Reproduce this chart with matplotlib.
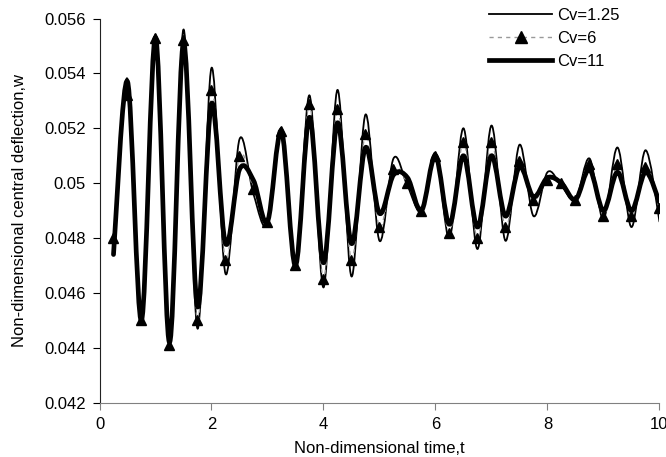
import numpy as np
import matplotlib
matplotlib.use('Agg')
import matplotlib.pyplot as plt
from matplotlib.path import Path
from matplotlib.patches import PathPatch
from matplotlib.lines import Line2D

plt.rcParams['font.family'] = ['Liberation Sans', 'DejaVu Sans']

# time samples
t = [0.25, 0.5, 0.75, 1.0, 1.25, 1.5, 1.75, 2.0, 2.25, 2.5,
     2.75, 3.0, 3.25, 3.5, 3.75, 4.0, 4.25, 4.5, 4.75, 5.0,
     5.25, 5.5, 5.75, 6.0, 6.25, 6.5, 6.75, 7.0, 7.25, 7.5,
     7.75, 8.0, 8.25, 8.5, 8.75, 9.0, 9.25, 9.5, 9.75, 10.0]

# central deflection for each damping value
w_cv125 = [0.0475, 0.0538, 0.0449, 0.0554, 0.0441, 0.0556, 0.0447, 0.0542, 0.0467, 0.0516,
           0.0496, 0.0485, 0.0520, 0.0470, 0.0532, 0.0462, 0.0534, 0.0466, 0.0525, 0.0479,
           0.0509, 0.0499, 0.0490, 0.0511, 0.0480, 0.0520, 0.0476, 0.0521, 0.0479, 0.0514,
           0.0488, 0.0504, 0.0499, 0.0494, 0.0509, 0.0487, 0.0513, 0.0484, 0.0512, 0.0486]
w_cv6 = [0.0480, 0.0532, 0.0450, 0.0553, 0.0441, 0.0552, 0.0450, 0.0534, 0.0472, 0.0510,
         0.0498, 0.0486, 0.0519, 0.0470, 0.0529, 0.0465, 0.0527, 0.0472, 0.0518, 0.0484,
         0.0505, 0.0500, 0.0490, 0.0510, 0.0482, 0.0515, 0.0480, 0.0515, 0.0484, 0.0508,
         0.0494, 0.0501, 0.0500, 0.0494, 0.0507, 0.0488, 0.0507, 0.0488, 0.0506, 0.0491]
w_cv11 = [0.0474, 0.0537, 0.0450, 0.0553, 0.0442, 0.0551, 0.0455, 0.0529, 0.0478, 0.0505,
          0.0501, 0.0486, 0.0519, 0.0470, 0.0524, 0.0471, 0.0522, 0.0478, 0.0513, 0.0489,
          0.0503, 0.0502, 0.0490, 0.0510, 0.0485, 0.0510, 0.0484, 0.0510, 0.0488, 0.0506,
          0.0495, 0.0502, 0.0500, 0.0494, 0.0505, 0.0490, 0.0504, 0.0490, 0.0504, 0.0493]

labels = ['Cv=1.25', 'Cv=6', 'Cv=11']
xticks = [0, 2, 4, 6, 8, 10]
yticks = [0.042, 0.044, 0.046, 0.048, 0.05, 0.052, 0.054, 0.056]
ytick_labels = ['0.042', '0.044', '0.046', '0.048', '0.05', '0.052', '0.054', '0.056']


def smooth_path(x, y):
    # smoothed line through the points (Catmull-Rom as cubic Bezier segments)
    p = np.column_stack([x, y])
    n = len(p)
    verts = [p[0]]
    codes = [Path.MOVETO]
    for i in range(n - 1):
        p0 = p[max(i - 1, 0)]
        p1 = p[i]
        p2 = p[i + 1]
        p3 = p[min(i + 2, n - 1)]
        verts += [p1 + (p2 - p0) / 6, p2 - (p3 - p1) / 6, p2]
        codes += [Path.CURVE4] * 3
    return Path(verts, codes)


fig = plt.figure(figsize=(6.66, 4.57), dpi=100)
ax = fig.add_axes([0.1494, 0.1188, 0.8408, 0.8407])

thin = dict(color='black', lw=1.3)
dash = dict(color='#999999', lw=1.0, ls=(0, (3, 3)))
thick = dict(color='black', lw=3.4)

ax.add_patch(PathPatch(smooth_path(t, w_cv125), fc='none', ec=thin['color'],
                       lw=thin['lw'], joinstyle='round', capstyle='round'))
ax.add_patch(PathPatch(smooth_path(t, w_cv6), fc='none', ec=dash['color'],
                       lw=dash['lw'], ls=dash['ls']))
ax.plot(t, w_cv6, ls='none', marker='^', ms=7, color='black', zorder=3)
ax.add_patch(PathPatch(smooth_path(t, w_cv11), fc='none', ec=thick['color'],
                       lw=thick['lw'], joinstyle='round', capstyle='round'))

ax.set_xlim(0, 10)
ax.set_ylim(0.042, 0.056)
ax.set_xticks(xticks)
ax.set_yticks(yticks)
ax.set_yticklabels(ytick_labels)
ax.tick_params(labelsize=12, direction='out', length=5, pad=5)
ax.tick_params(axis='x', colors='#808080', labelcolor='black')

ax.spines['top'].set_visible(False)
ax.spines['right'].set_visible(False)
ax.spines['left'].set_color('#222222')
ax.spines['bottom'].set_color('#808080')

ax.set_xlabel('Non-dimensional time,t', fontsize=12, labelpad=7)
ax.set_ylabel('Non-dimensional central deflection,w', fontsize=12, labelpad=12)

handles = [Line2D([], [], **thin),
           Line2D([], [], marker='^', ms=8, mfc='black', mec='black', **dash),
           Line2D([], [], **thick)]
fig.legend(handles, labels, loc='upper left', bbox_to_anchor=(0.734, 0.983),
           frameon=False, fontsize=12, handlelength=3.8, handletextpad=0.3,
           labelspacing=0.48, borderpad=0, borderaxespad=0, numpoints=1)

fig.savefig('out.png', dpi=100)
